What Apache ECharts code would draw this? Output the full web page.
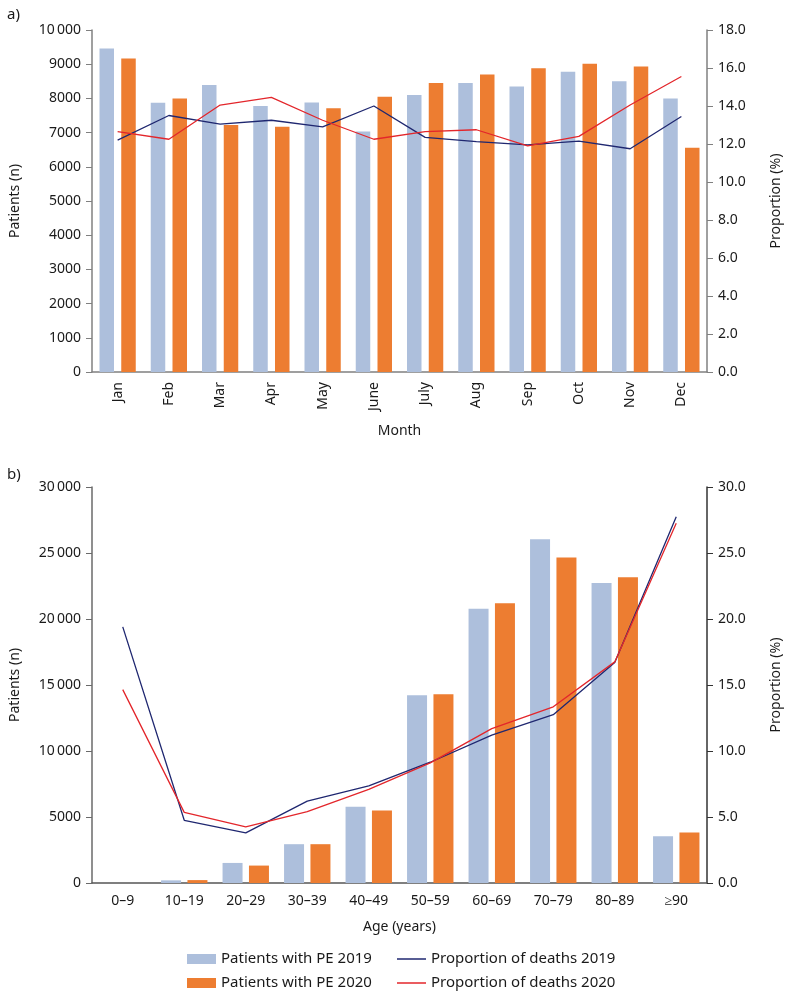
<!DOCTYPE html>
<html>
<head>
<meta charset="utf-8">
<script src="https://cdn.jsdelivr.net/npm/echarts@6/dist/echarts.min.js"></script>
<style>
html,body{margin:0;padding:0;background:#fff;}
#chart{width:791px;height:996px;}
</style>
</head>
<body>
<div id="chart"></div>
<script>
// ---- Data ----
const months = ['Jan','Feb','Mar','Apr','May','June','July','Aug','Sep','Oct','Nov','Dec'];
const pe2019Month = [9460, 7870, 8390, 7780, 7880, 7030, 8100, 8450, 8350, 8780, 8500, 8000];
const pe2020Month = [9170, 8000, 7220, 7170, 7710, 8050, 8450, 8700, 8880, 9010, 8930, 6560];
const death2019Month = [12.2, 13.5, 13.05, 13.25, 12.9, 14.0, 12.35, 12.12, 11.95, 12.15, 11.75, 13.45];
const death2020Month = [12.65, 12.25, 14.05, 14.45, 13.25, 12.25, 12.65, 12.75, 11.9, 12.4, 14.05, 15.55];

const ageGroups = ['0\u20139','10\u201319','20\u201329','30\u201339','40\u201349','50\u201359','60\u201369','70\u201379','80\u201389','\u226590'];
const pe2019Age = [0, 200, 1520, 2940, 5770, 14220, 20770, 26050, 22720, 3540];
const pe2020Age = [0, 220, 1320, 2940, 5490, 14290, 21200, 24660, 23170, 3820];
const death2019Age = [19.4, 4.75, 3.8, 6.2, 7.35, 9.15, 11.2, 12.75, 16.7, 27.75];
const death2020Age = [14.65, 5.35, 4.25, 5.4, 7.1, 9.1, 11.7, 13.35, 16.75, 27.25];

const names = ['Patients with PE 2019','Patients with PE 2020','Proportion of deaths 2019','Proportion of deaths 2020'];

// ---- Styles ----
const FONT = 'Noto Sans';
const C19 = '#adbfdc', C20 = '#ed7d31', L19 = '#1f2770', L20 = '#e3262b';
const txt = '#1a1a1a';
function fmtN(v){ return v >= 10000 ? String(v).replace(/(\d)(?=(\d{3})+$)/g, '$1\u2009') : String(v); }

function yLeft(gi, max, interval, axisColor){
  return {
    type:'value', gridIndex:gi, min:0, max:max, interval:interval, position:'left',
    name:'Patients (n)', nameLocation:'middle', nameGap:70, nameRotate:90,
    nameTextStyle:{fontFamily:FONT, fontSize:14, color:txt},
    axisLine:{show:true, lineStyle:{color:axisColor, width:1.5}},
    axisTick:{show:true, length:6, lineStyle:{color:axisColor}},
    axisLabel:{fontFamily:FONT, fontSize:14, color:txt, margin:11, formatter:fmtN},
    splitLine:{show:false}
  };
}
function yRight(gi, max, interval, axisColor){
  return {
    type:'value', gridIndex:gi, min:0, max:max, interval:interval, position:'right',
    name:'Proportion (%)', nameLocation:'middle', nameGap:62, nameRotate:90,
    nameTextStyle:{fontFamily:FONT, fontSize:14, color:txt},
    axisLine:{show:true, lineStyle:{color:axisColor, width:1.5}},
    axisTick:{show:true, length:6, lineStyle:{color:axisColor}},
    axisLabel:{fontFamily:FONT, fontSize:14, color:txt, margin:11, formatter:v=>v.toFixed(1)},
    splitLine:{show:false}
  };
}

const chart = echarts.init(document.getElementById('chart'), null, {renderer:'canvas'});
chart.setOption({
  backgroundColor:'#fff',
  animation:false,
  title:[
    {text:'a)', left:2, top:2, textStyle:{fontFamily:FONT, fontSize:15, fontWeight:'normal', color:txt}},
    {text:'b)', left:2, top:462, textStyle:{fontFamily:FONT, fontSize:15, fontWeight:'normal', color:txt}}
  ],
  grid:[
    {left:88, right:81, top:30, height:342},
    {left:88, right:80, top:487, height:396}
  ],
  legend:[
    {data:[names[0],names[1]], orient:'vertical', left:187, top:950, height:80, padding:0,
     itemWidth:29, itemHeight:10, itemGap:6,
     icon:'rect', textStyle:{fontFamily:FONT, fontSize:15, color:txt, lineHeight:18}},
    {data:[names[2],names[3]], orient:'vertical', left:397, top:950, height:80, padding:0,
     itemWidth:29, itemHeight:1.5, itemGap:6,
     icon:'rect', textStyle:{fontFamily:FONT, fontSize:15, color:txt, lineHeight:18}}
  ],
  xAxis:[
    {type:'category', gridIndex:0, data:months,
     name:'Month', nameLocation:'middle', nameGap:52,
     nameTextStyle:{fontFamily:FONT, fontSize:14, color:txt, verticalAlign:'top'},
     axisLine:{lineStyle:{color:'#808080', width:1.5}},
     axisTick:{alignWithLabel:true, length:6, lineStyle:{color:'#808080'}},
     axisLabel:{rotate:90, fontFamily:FONT, fontSize:14, color:txt, margin:10, interval:0}},
    {type:'category', gridIndex:1, data:ageGroups,
     name:'Age (years)', nameLocation:'middle', nameGap:37,
     nameTextStyle:{fontFamily:FONT, fontSize:14, color:txt, verticalAlign:'top'},
     axisLine:{lineStyle:{color:'#555', width:1.5}},
     axisTick:{alignWithLabel:true, length:6, lineStyle:{color:'#555'}},
     axisLabel:{fontFamily:FONT, fontSize:14, color:txt, margin:11, interval:0}}
  ],
  yAxis:[
    yLeft(0, 10000, 1000, '#808080'),
    yRight(0, 18, 2, '#808080'),
    yLeft(1, 30000, 5000, '#6a6a6a'),
    yRight(1, 30, 5, '#333')
  ],
  series:[
    {name:names[0], type:'bar', xAxisIndex:0, yAxisIndex:0, data:pe2019Month, barWidth:14.5, barGap:'50%', itemStyle:{color:C19}},
    {name:names[1], type:'bar', xAxisIndex:0, yAxisIndex:0, data:pe2020Month, barWidth:14.5, barGap:'50%', itemStyle:{color:C20}},
    {name:names[2], type:'line', xAxisIndex:0, yAxisIndex:1, data:death2019Month, symbol:'none', lineStyle:{color:L19, width:1.3}, itemStyle:{color:L19}, z:5},
    {name:names[3], type:'line', xAxisIndex:0, yAxisIndex:1, data:death2020Month, symbol:'none', lineStyle:{color:L20, width:1.3}, itemStyle:{color:L20}, z:5},
    {name:names[0], type:'bar', xAxisIndex:1, yAxisIndex:2, data:pe2019Age, barWidth:20, barGap:'32%', itemStyle:{color:C19}},
    {name:names[1], type:'bar', xAxisIndex:1, yAxisIndex:2, data:pe2020Age, barWidth:20, barGap:'32%', itemStyle:{color:C20}},
    {name:names[2], type:'line', xAxisIndex:1, yAxisIndex:3, data:death2019Age, symbol:'none', lineStyle:{color:L19, width:1.3}, itemStyle:{color:L19}, z:5},
    {name:names[3], type:'line', xAxisIndex:1, yAxisIndex:3, data:death2020Age, symbol:'none', lineStyle:{color:L20, width:1.3}, itemStyle:{color:L20}, z:5}
  ]
});
</script>
</body>
</html>
